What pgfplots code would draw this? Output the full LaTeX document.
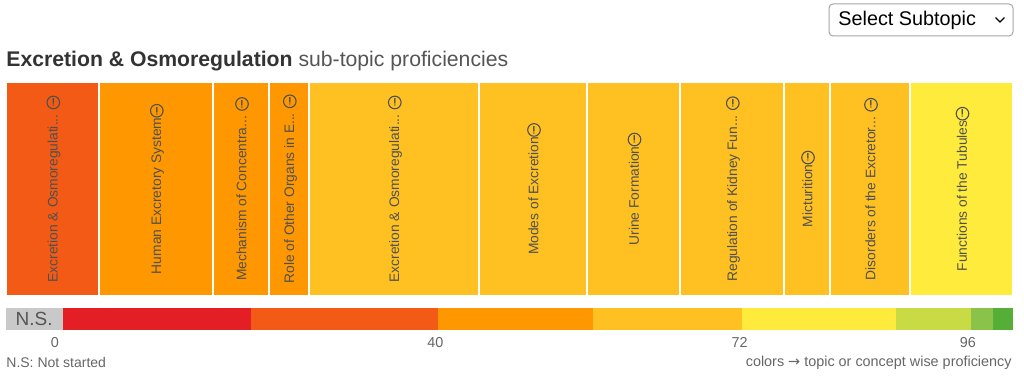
\documentclass[border=0pt]{standalone}
\usepackage{pgfplots}
\pgfplotsset{compat=1.18}
\usepackage{fontspec}
\setmainfont{Liberation Sans}
\newfontfamily\dv{DejaVu Sans}
\definecolor{titledark}{HTML}{333333}
\definecolor{titlegray}{HTML}{555555}
\definecolor{labelgray}{HTML}{505050}
\definecolor{tickgray}{HTML}{666666}
\definecolor{cNS}{HTML}{C9C9C9}
\definecolor{cRed}{HTML}{E31E24}
\definecolor{cDeep}{HTML}{F25A16}
\definecolor{cOrange}{HTML}{FF9800}
\definecolor{cAmber}{HTML}{FFC122}
\definecolor{cYellow}{HTML}{FFEB3B}
\definecolor{cLime}{HTML}{C8DA44}
\definecolor{cLGreen}{HTML}{8BC34A}
\definecolor{cGreen}{HTML}{55AE35}
\newcommand{\info}{\tikz[baseline=-0.6ex]\node[circle, draw=labelgray, line width=0.55pt, inner sep=0pt, minimum size=6.3pt, text=labelgray, font=\fontsize{5.2}{5.2}\selectfont\bfseries]{i};}
\begin{document}
\begin{tikzpicture}
\useasboundingbox (0,0) rectangle (512pt,-191.5pt);
% title
\node[anchor=base west, inner sep=0pt] at (3pt,-33.5pt) {\fontsize{10.6}{12}\selectfont\textcolor{titledark}{\bfseries Excretion \& Osmoregulation} \textcolor{titlegray}{sub-topic proficiencies}};
% dropdown
\draw[gray!70, line width=0.5pt, rounded corners=2pt] (414.5pt,-2pt) rectangle (506.5pt,-18pt);
\node[anchor=west, inner sep=0pt] at (419pt,-10pt) {\fontsize{9.9}{11}\selectfont Select Subtopic};
\draw[black, line width=0.6pt] (497.8pt,-8.8pt) -- (500pt,-11pt) -- (502.2pt,-8.8pt);
% treemap
\begin{axis}[at={(3pt,-41pt)}, anchor=north west, scale only axis,
  width=503.5pt, height=107pt, xmin=6, xmax=1013, ymin=0, ymax=1,
  axis line style={draw=none}, xtick=\empty, ytick=\empty, clip=false]
\addplot[ybar interval, fill=cDeep, draw=white, line width=0.6pt] coordinates {(6,1) (99,1)};
\addplot[ybar interval, fill=cOrange, draw=white, line width=0.6pt] coordinates {(99,1) (213,1) (269,1) (309,1)};
\addplot[ybar interval, fill=cAmber, draw=white, line width=0.6pt] coordinates {(309,1) (479,1) (587,1) (680,1) (784,1) (830,1) (910,1)};
\addplot[ybar interval, fill=cYellow, draw=white, line width=0.6pt] coordinates {(910,1) (1013,1)};
\begin{scope}[every node/.style={rotate=90, text=labelgray, inner sep=0pt, font=\fontsize{6.9}{8}\selectfont}]
\node at (axis cs:53.5,0.5) {Excretion \& Osmoregulati... \info};
\node at (axis cs:157,0.5) {Human Excretory System\info};
\node at (axis cs:242,0.5) {Mechanism of Concentra... \info};
\node at (axis cs:290,0.5) {Role of Other Organs in E... \info};
\node at (axis cs:395,0.5) {Excretion \& Osmoregulati... \info};
\node at (axis cs:534,0.5) {Modes of Excretion\info};
\node at (axis cs:634.5,0.5) {Urine Formation\info};
\node at (axis cs:733,0.5) {Regulation of Kidney Fun... \info};
\node at (axis cs:808,0.5) {Micturition\info};
\node at (axis cs:871,0.5) {Disorders of the Excretor... \info};
\node at (axis cs:962.5,0.5) {Functions of the Tubules\info};
\end{scope}
\end{axis}
% colour scale
\begin{axis}[at={(3pt,-154pt)}, anchor=north west, scale only axis,
  width=503.5pt, height=11pt, xmin=-5.15, xmax=100.74, ymin=0, ymax=1,
  axis line style={draw=none}, ytick=\empty,
  xtick={0,40,72,96}, xticklabels={0,40,72,96}, major tick length=0pt,
  /pgf/number format/assume math mode=true,
  xticklabel style={font=\fontsize{7.2}{8}\selectfont, text=tickgray, inner sep=0pt, yshift=-3.5pt},
  clip=false]
\addplot[ybar interval, fill=cNS, draw=none] coordinates {(-5.15,1) (0.84,1)};
\addplot[ybar interval, fill=cRed, draw=none] coordinates {(0.84,1) (20.61,1)};
\addplot[ybar interval, fill=cDeep, draw=none] coordinates {(20.61,1) (40.27,1)};
\addplot[ybar interval, fill=cOrange, draw=none] coordinates {(40.27,1) (56.57,1)};
\addplot[ybar interval, fill=cAmber, draw=none] coordinates {(56.57,1) (72.24,1)};
\addplot[ybar interval, fill=cYellow, draw=none] coordinates {(72.24,1) (88.43,1)};
\addplot[ybar interval, fill=cLime, draw=none] coordinates {(88.43,1) (96.32,1)};
\addplot[ybar interval, fill=cLGreen, draw=none] coordinates {(96.32,1) (98.63,1)};
\addplot[ybar interval, fill=cGreen, draw=none] coordinates {(98.63,1) (100.74,1)};
\node[text=titlegray, inner sep=0pt, font=\fontsize{9.5}{10}\selectfont] at (axis cs:-2.2,0.5) {N.S.};
\end{axis}
\node[anchor=west, inner sep=0pt, text=tickgray] at (3pt,-181.5pt) {\fontsize{7}{8}\selectfont N.S: Not started};
\node[anchor=east, inner sep=0pt, text=tickgray] at (506pt,-181.5pt) {\fontsize{7.2}{8}\selectfont colors {\dv →} topic or concept wise proficiency};
\end{tikzpicture}
\end{document}
